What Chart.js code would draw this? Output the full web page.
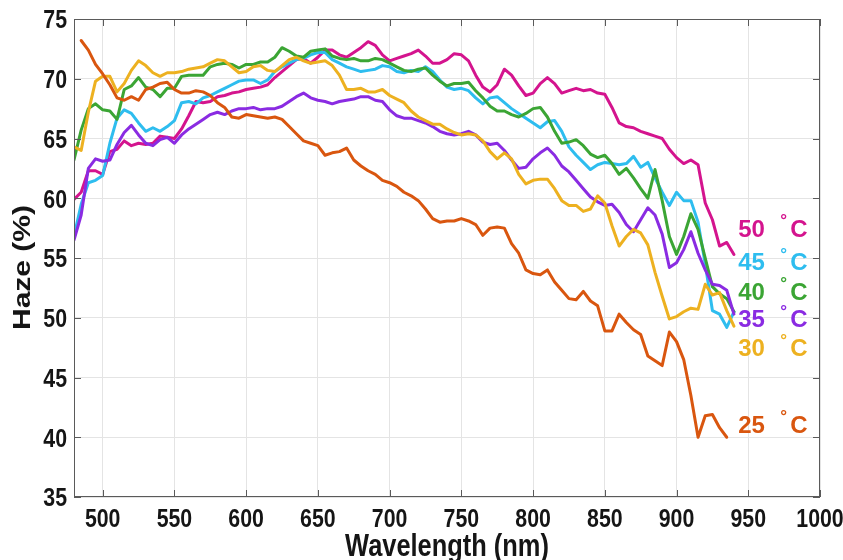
<!DOCTYPE html>
<html>
<head>
<meta charset="utf-8">
<title>Haze vs wavelength</title>
<script src="https://cdn.jsdelivr.net/npm/chart.js@4.4.1/dist/chart.umd.min.js"></script>
<style>
  body { margin: 0; background: #fff; }
  canvas { display: block; }
</style>
</head>
<body>
<canvas id="hazeChart" width="843" height="560"></canvas>
<script>
// wavelength grid (nm) the curves were read on
const wavelength = [
  480, 485, 490, 495, 500, 505, 510, 515, 520, 525,
  530, 535, 540, 545, 550, 555, 560, 565, 570, 575,
  580, 585, 590, 595, 600, 605, 610, 615, 620, 625,
  630, 635, 640, 645, 650, 655, 660, 665, 670, 675,
  680, 685, 690, 695, 700, 705, 710, 715, 720, 725,
  730, 735, 740, 745, 750, 755, 760, 765, 770, 775,
  780, 785, 790, 795, 800, 805, 810, 815, 820, 825,
  830, 835, 840, 845, 850, 855, 860, 865, 870, 875,
  880, 885, 890, 895, 900, 905, 910, 915, 920, 925,
  930, 935, 940
];

// haze (%) for each temperature
const haze25 = [
  null, 73.2, 72.4, 71.2, 70.4, 69.5, 68.4, 68.2, 68.5, 68.2,
  69.1, 69.3, 69.6, 69.7, 69.1, 68.8, 68.8, 69.0, 68.9, 68.6,
  68.0, 67.6, 66.8, 66.7, 67.0, 66.9, 66.8, 66.7, 66.8, 66.6,
  66.0, 65.4, 64.8, 64.6, 64.4, 63.6, 63.8, 63.9, 64.2, 63.2,
  62.7, 62.3, 62.0, 61.5, 61.3, 61.0, 60.5, 60.2, 59.8, 59.1,
  58.3, 58.0, 58.1, 58.1, 58.3, 58.1, 57.8, 56.9, 57.5, 57.6,
  57.5, 56.2, 55.4, 54.0, 53.7, 53.6, 54.0, 53.0, 52.3, 51.6,
  51.5, 52.2, 51.4, 51.0, 48.9, 48.9, 50.3, 49.6, 49.0, 48.6,
  46.8, 46.4, 46.0, 48.8, 48.0, 46.5, 43.5, 40.0, 41.8, 41.9,
  40.8, 40.0, null
];
const haze30 = [
  64.3, 64.0, 67.2, 69.8, 70.2, 70.2, 68.9, 69.6, 70.7, 71.5,
  71.1, 70.5, 70.2, 70.5, 70.5, 70.6, 70.8, 70.9, 71.0, 71.3,
  71.6, 71.5, 71.0, 70.5, 70.6, 71.0, 71.1, 70.7, 70.6, 71.1,
  71.6, 71.8, 71.5, 71.3, 71.4, 71.5, 71.1, 70.3, 69.1, 69.1,
  69.2, 68.9, 68.9, 69.1, 68.6, 68.3, 68.0, 67.3, 66.8, 66.5,
  66.2, 66.2, 65.8, 65.5, 65.3, 65.4, 65.3, 64.8, 63.9, 63.3,
  63.8, 63.3, 62.0, 61.2, 61.5, 61.6, 61.6, 60.8, 59.8, 59.4,
  59.4, 58.9, 59.1, 60.2, 59.6, 57.7, 56.0, 56.8, 57.4, 57.1,
  56.1, 53.8, 51.8, 49.9, 50.1, 50.5, 50.8, 50.7, 52.8, 51.9,
  52.1, 50.6, 49.3
];
const haze35 = [
  56.5, 58.6, 62.5, 63.3, 63.1, 63.2, 64.5, 65.5, 66.1, 65.3,
  64.6, 64.4, 64.9, 65.1, 64.6, 65.3, 65.8, 66.2, 66.6, 67.0,
  67.2, 67.0, 67.3, 67.5, 67.5, 67.6, 67.4, 67.5, 67.5, 67.7,
  68.1, 68.5, 68.8, 68.4, 68.2, 68.1, 67.9, 68.1, 68.2, 68.3,
  68.5, 68.5, 68.2, 68.1, 67.4, 66.9, 66.7, 66.7, 66.5, 66.3,
  66.0, 65.6, 65.4, 65.3, 65.4, 65.6, 65.3, 64.7, 64.5, 64.6,
  64.0, 63.2, 62.5, 62.6, 63.3, 63.8, 64.2, 63.6, 62.7, 62.2,
  61.5, 60.8, 60.1, 59.7, 59.4, 59.5, 58.8, 57.8, 57.2, 58.2,
  59.2, 58.6, 57.0, 54.2, 54.6, 55.7, 57.2, 55.4, 54.0, 52.8,
  52.7, 52.3, 50.3
];
const haze40 = [
  63.2, 65.7, 67.5, 67.9, 67.4, 67.3, 66.6, 69.1, 69.4, 70.1,
  69.3, 69.1, 68.5, 69.2, 69.2, 70.2, 70.3, 70.3, 70.3, 71.0,
  71.2, 71.3, 71.2, 70.9, 71.2, 71.2, 71.4, 71.4, 71.8, 72.6,
  72.3, 71.9, 71.8, 72.3, 72.4, 72.5, 71.9, 71.7, 71.6, 71.7,
  71.5, 71.5, 71.7, 71.6, 71.3, 71.0, 70.7, 70.6, 70.8, 70.9,
  70.3, 69.8, 69.4, 69.6, 69.6, 69.7, 69.0, 68.4, 67.7, 67.3,
  67.3, 67.0, 66.8, 67.1, 67.5, 67.6, 66.8, 65.6, 64.6, 64.7,
  64.9, 64.4, 63.7, 63.4, 63.6, 62.9, 62.0, 62.5, 61.7, 60.8,
  60.0, 62.4, 59.8, 56.8, 55.3, 56.8, 58.7, 57.4, 55.0, 52.6,
  52.0, 51.6, 50.5
];
const haze45 = [
  56.8, 59.5, 61.3, 61.5, 61.9, 64.6, 66.7, 67.4, 67.1, 66.3,
  65.6, 65.9, 65.6, 66.0, 66.5, 68.0, 68.1, 67.9, 68.4, 68.6,
  68.9, 69.2, 69.5, 69.8, 69.9, 69.9, 69.6, 69.9, 70.6, 71.0,
  71.3, 71.6, 71.7, 72.0, 72.2, 72.2, 71.6, 71.3, 71.0, 70.8,
  70.6, 70.7, 70.8, 71.1, 71.0, 70.6, 70.5, 70.7, 70.6, 71.0,
  70.6, 69.9, 69.3, 69.1, 69.2, 69.0, 68.4, 67.9, 68.4, 68.5,
  68.0, 67.5, 67.1, 66.7, 66.3, 65.9, 66.4, 66.5, 65.6, 64.3,
  63.6, 63.0, 62.4, 62.8, 63.0, 62.9, 62.8, 62.9, 63.5, 62.6,
  63.0, 61.7, 60.5, 59.4, 60.5, 59.8, 59.8, 58.0, 54.5, 50.6,
  50.3, 49.2, 50.5
];
const haze50 = [
  59.9, 60.5, 62.3, 62.3, 62.0, 63.9, 64.1, 64.8, 64.4, 64.6,
  64.5, 64.6, 65.2, 65.1, 65.0, 65.8, 66.9, 68.1, 68.0, 68.1,
  68.5, 68.6, 68.8, 68.9, 69.1, 69.2, 69.3, 69.5, 70.1, 70.6,
  71.1, 71.6, 71.7, 71.3, 71.8, 72.4, 72.4, 72.0, 71.8, 72.2,
  72.6, 73.1, 72.8, 72.0, 71.5, 71.7, 71.9, 72.1, 72.4, 71.9,
  71.3, 71.3, 71.6, 72.1, 72.0, 71.5, 70.3, 69.3, 68.9, 69.5,
  70.8, 70.3, 69.4, 68.6, 68.8, 69.6, 70.1, 69.6, 68.8, 69.0,
  69.2, 69.0, 69.1, 68.8, 68.7, 67.6, 66.3, 66.0, 65.9, 65.6,
  65.4, 65.2, 65.0, 64.1, 63.4, 62.9, 63.2, 62.8, 59.6, 58.2,
  56.0, 56.3, 55.3
];

const temps = ['25', '30', '35', '40', '45', '50'];
const seriesValues = [haze25, haze30, haze35, haze40, haze45, haze50];
const xTicks = [500, 550, 600, 650, 700, 750, 800, 850, 900, 950, 1000];
const yTicks = [35, 40, 45, 50, 55, 60, 65, 70, 75];

const colors = ['#D9560F', '#EDB120', '#8A2BE2', '#3BA534', '#2EBDEF', '#D4148E'];

const fontFam = '"Liberation Sans", Arial, sans-serif';
const squeeze = 0.82; // the original figure's text is horizontally condensed
const textColor = '#151515';

// draw text squeezed along its own width
function narrowText(ctx, text, x, y, align, size) {
    ctx.save();
    ctx.translate(x, y);
    ctx.scale(squeeze, 1);
    ctx.font = 'bold ' + size + 'px ' + fontFam;
    ctx.textAlign = align;
    ctx.textBaseline = 'alphabetic';
    ctx.fillText(text, 0, 0);
    ctx.restore();
}

// tick labels and axis titles
const axisText = {
    id: 'axisText',
    afterDraw(chart) {
        const { ctx, chartArea: a, scales } = chart;
        ctx.save();
        ctx.fillStyle = textColor;
        xTicks.forEach(v => {
            narrowText(ctx, String(v), scales.x.getPixelForValue(v), a.bottom + 30, 'center', 26);
        });
        yTicks.forEach(v => {
            narrowText(ctx, String(v), a.left - 7, scales.y.getPixelForValue(v) + 9.3, 'right', 26);
        });
        narrowText(ctx, 'Wavelength (nm)', (a.left + a.right) / 2, 556, 'center', 31);

        // vertical title, condensed across its thickness
        ctx.save();
        ctx.translate(30, 267.5);
        ctx.rotate(-Math.PI / 2);
        ctx.scale(1, squeeze);
        ctx.font = 'bold 30px ' + fontFam;
        ctx.textAlign = 'center';
        ctx.textBaseline = 'alphabetic';
        ctx.fillText('Haze (%)', 0, 0);
        ctx.restore();
        ctx.restore();
    }
};

// box with inward ticks, like the original plot
const boxPlugin = {
    id: 'boxPlugin',
    afterDatasetsDraw(chart) {
        const { ctx, chartArea: a, scales } = chart;
        const len = 7;
        ctx.save();
        ctx.strokeStyle = '#5a5a5a';
        ctx.lineWidth = 1;
        ctx.strokeRect(a.left + 0.5, a.top + 0.5, a.right - a.left - 1, a.bottom - a.top - 1);
        ctx.beginPath();
        xTicks.forEach(v => {
            const px = Math.round(scales.x.getPixelForValue(v)) + 0.5;
            ctx.moveTo(px, a.bottom); ctx.lineTo(px, a.bottom - len);
            ctx.moveTo(px, a.top); ctx.lineTo(px, a.top + len);
        });
        yTicks.forEach(v => {
            const py = Math.round(scales.y.getPixelForValue(v)) + 0.5;
            ctx.moveTo(a.left, py); ctx.lineTo(a.left + len, py);
            ctx.moveTo(a.right, py); ctx.lineTo(a.right - len, py);
        });
        ctx.stroke();
        ctx.restore();
    }
};

// "50 °C" style labels at the right end of the curves
const tempLabels = {
    id: 'tempLabels',
    afterDatasetsDraw(chart, args, opts) {
        const { ctx, scales } = chart;
        ctx.save();
        ctx.textBaseline = 'alphabetic';
        ctx.textAlign = 'left';
        temps.forEach((t, i) => {
            const px = scales.x.getPixelForValue(opts.x);
            const py = scales.y.getPixelForValue(opts.y[i]);
            ctx.fillStyle = colors[i];
            ctx.font = 'bold 24px ' + fontFam;
            ctx.fillText(t, px, py + 8.5);
            ctx.fillText('C', px + 52, py + 8.5);
            ctx.font = 'bold 17px ' + fontFam;
            ctx.fillText('\u00B0', px + 42, py - 2);
        });
        ctx.restore();
    }
};

const ctx = document.getElementById('hazeChart');

new Chart(ctx, {
    type: 'line',
    data: {
        labels: wavelength,
        datasets: seriesValues.map((vals, i) => ({
            label: temps[i] + ' \u00B0C',
            data: vals,
            borderColor: colors[i],
            borderWidth: 3,
            borderJoinStyle: 'round',
            borderCapStyle: 'round',
            pointRadius: 0,
            tension: 0,
            fill: false
        }))
    },
    options: {
        responsive: false,
        animation: false,
        layout: { padding: { top: 19, right: 23, left: 0, bottom: 0 } },
        plugins: {
            legend: { display: false },
            tooltip: { enabled: false },
            tempLabels: { x: 943, y: [41.1, 47.5, 49.9, 52.2, 54.7, 57.5] }
        },
        scales: {
            x: {
                type: 'linear',
                min: 480,
                max: 1000,
                afterBuildTicks: s => { s.ticks = xTicks.map(v => ({ value: v })); },
                afterFit: s => { s.height = 63; s.paddingLeft = 0; s.paddingRight = 0; },
                grid: { color: '#e4e4e4', drawTicks: false },
                border: { display: false },
                ticks: { display: false }
            },
            y: {
                min: 35,
                max: 75,
                afterBuildTicks: s => { s.ticks = yTicks.map(v => ({ value: v })); },
                afterFit: s => { s.width = 74; s.paddingTop = 0; s.paddingBottom = 0; },
                grid: { color: '#e4e4e4', drawTicks: false },
                border: { display: false },
                ticks: { display: false }
            }
        }
    },
    plugins: [boxPlugin, tempLabels, axisText]
});
</script>
</body>
</html>
